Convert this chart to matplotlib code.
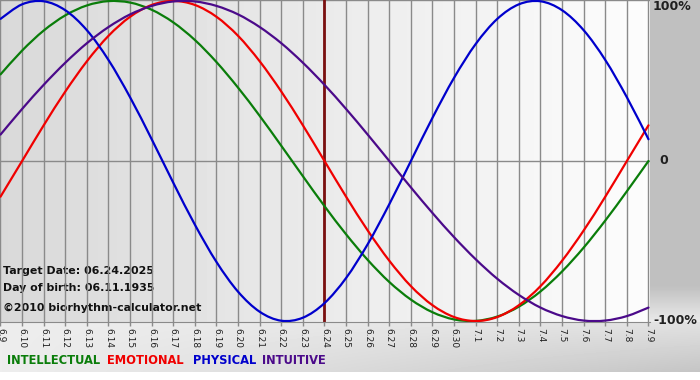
"""
Biorhythm chart: four cycles around the target date 06.24.2025.
"""

from matplotlib import pyplot as plt
from matplotlib.patches import PathPatch
from matplotlib.path import Path
import numpy as np

DAY_LABELS = ['6.9', '6.10', '6.11', '6.12', '6.13', '6.14', '6.15', '6.16',
              '6.17', '6.18', '6.19', '6.20', '6.21', '6.22', '6.23', '6.24',
              '6.25', '6.26', '6.27', '6.28', '6.29', '6.30', '7.1', '7.2',
              '7.3', '7.4', '7.5', '7.6', '7.7', '7.8', '7.9']
TARGET_LABEL = '6.24'

intellectual = [0.541, 0.690, 0.815, 0.910, 0.972, 0.999, 0.990, 0.945,
                0.866, 0.756, 0.618, 0.458, 0.282, 0.095, -0.095, -0.282,
                -0.458, -0.618, -0.756, -0.866, -0.945, -0.990, -0.999,
                -0.972, -0.910, -0.815, -0.690, -0.541, -0.372, -0.189, 0.000]
emotional = [-0.223, 0.000, 0.223, 0.434, 0.623, 0.782, 0.901, 0.975, 1.000,
             0.975, 0.901, 0.782, 0.623, 0.434, 0.223, 0.000, -0.223, -0.434,
             -0.623, -0.782, -0.901, -0.975, -1.000, -0.975, -0.901, -0.782,
             -0.623, -0.434, -0.223, 0.000, 0.223]
physical = [0.888, 0.979, 0.998, 0.942, 0.817, 0.631, 0.398, 0.136, -0.136,
            -0.398, -0.631, -0.817, -0.942, -0.998, -0.979, -0.888, -0.731,
            -0.520, -0.270, 0.000, 0.270, 0.520, 0.731, 0.888, 0.979, 0.998,
            0.942, 0.817, 0.631, 0.398, 0.136]
intuitive = [0.165, 0.325, 0.476, 0.614, 0.736, 0.837, 0.916, 0.969, 0.997,
             0.997, 0.969, 0.916, 0.837, 0.736, 0.614, 0.476, 0.325, 0.165,
             0.000, -0.165, -0.325, -0.476, -0.614, -0.736, -0.837, -0.916,
             -0.969, -0.997, -0.997, -0.969, -0.916]

SERIES_NAMES = ['INTELLECTUAL', 'EMOTIONAL', 'PHYSICAL', 'INTUITIVE']
Y_LABELS = ['100%', '0', '-100%']
INFO_LINES = ['Target Date: 06.24.2025', 'Day of birth: 06.11.1935',
              '\u00a92010 biorhythm-calculator.net']

COLORS = ['#0a7d0a', '#f00000', '#0000cc', '#4b0a8a']
W, H = 700, 380
PLOT_W, PLOT_H = 650, 322


def smooth_path(x, y):
    """
    Catmull-Rom style Bezier path through the daily points (drawing only).
    """
    pts = np.column_stack([x, y]).astype(float)
    ext = np.vstack([pts[0], pts, pts[-1]])
    verts = [pts[0]]
    codes = [Path.MOVETO]
    for i in range(len(pts) - 1):
        p0, p1, p2, p3 = ext[i], ext[i + 1], ext[i + 2], ext[i + 3]
        verts += [p1 + (p2 - p0) / 6, p2 - (p3 - p1) / 6, p2]
        codes += [Path.CURVE4] * 3
    return Path(verts, codes)


def draw_background(fig):
    """
    Gray gradients behind the chart, in pixel coordinates.
    """
    bg = fig.add_axes([0, 0, 1, 1], zorder=0)
    bg.set_xlim(0, W)
    bg.set_ylim(H, 0)
    bg.axis('off')

    img = np.ones((H, W))
    xs = np.arange(W) / W
    # plot area: darker on the left, nearly white on the right
    img[:PLOT_H, :PLOT_W] = 0.85 + 0.14 * (np.arange(PLOT_W) / PLOT_W)
    # right strip
    ys = np.arange(PLOT_H)
    strip = np.where(ys < 285, 0.75, 0.75 + 0.17 * (ys - 285) / 37)
    img[:PLOT_H, PLOT_W:] = strip[:, None]
    # bottom band
    t = 0.3 + 0.7 * (np.arange(PLOT_H, 372) - PLOT_H) / 50
    img[PLOT_H:372, :] = 0.93 - 0.16 * xs[None, :] * t[:, None]
    img[372:, :] = 1.0
    bg.imshow(img, cmap='gray', vmin=0, vmax=1, extent=(0, W, H, 0),
              aspect='auto', interpolation='bilinear')
    return bg


def main():
    fig = plt.figure(figsize=(W / 100, H / 100), dpi=100)
    bg = draw_background(fig)

    ax = fig.add_axes([0, 1 - PLOT_H / H, PLOT_W / W, PLOT_H / H], zorder=1)
    ax.patch.set_alpha(0)
    days = np.arange(len(DAY_LABELS))
    for i in days:
        ax.axvline(i, color='#8a8a8a', lw=1.0, zorder=1)
    ax.axhline(0, color='#8a8a8a', lw=1.0, zorder=1)
    ax.axhline(1.006, color='#8a8a8a', lw=1.0, zorder=1)
    ax.axvline(DAY_LABELS.index(TARGET_LABEL), color='#7a1010', lw=2.0,
               zorder=2)

    for values, color in zip([intellectual, emotional, physical, intuitive],
                             COLORS):
        ax.add_patch(PathPatch(smooth_path(days, values), fill=False,
                               edgecolor=color, lw=1.6, zorder=3,
                               capstyle='round'))

    ax.set_xlim(-0.023, 30.07)
    ax.set_ylim(-1.006, 1.006)
    for side in ['top', 'right', 'left']:
        ax.spines[side].set_visible(False)
    ax.spines['bottom'].set_color('#8a8a8a')
    ax.set_yticks([])
    ax.set_xticks(days)
    ax.set_xticklabels(DAY_LABELS, rotation=270, fontsize=6.5,
                       color='#202020')
    ax.tick_params(axis='x', length=3, width=1, color='#8a8a8a', pad=1)

    for label, y in zip(Y_LABELS, [7, 161, 321]):
        x = 659 if label == '0' else 653
        bg.text(x, y, label, fontsize=9, fontweight='bold',
                color='#202020', va='center', ha='left')

    for line, y in zip(INFO_LINES, [271, 288, 308]):
        bg.text(3, y, line, fontsize=7.9, fontweight='bold',
                color='#111111', va='center', ha='left', zorder=5)

    for name, color, x in zip(SERIES_NAMES, COLORS, [7, 107, 193, 262]):
        bg.text(x, 361, name, fontsize=8.3, fontweight='bold', color=color,
                va='center', ha='left')

    fig.savefig('out.png', dpi=100)


if __name__ == '__main__':
    main()
